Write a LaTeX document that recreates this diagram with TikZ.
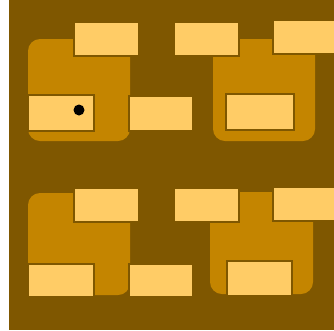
\documentclass[tikz,border=0pt]{standalone}
\usepackage{xcolor}
\usepackage{tikz}
\usetikzlibrary{positioning}
\definecolor{bgbrown}{HTML}{7F5700}
\definecolor{tileorange}{HTML}{C48500}
\definecolor{slotyellow}{HTML}{FFCC66}
\begin{document}
\begin{tikzpicture}[x=1pt, y=-1pt,
  tile/.style={rectangle, fill=tileorange, rounded corners=12pt, anchor=north west,
    inner sep=0pt, outer sep=0pt, minimum width=102pt, minimum height=102pt},
  slot/.style={rectangle, fill=slotyellow, draw=bgbrown, line width=2pt, anchor=north west,
    inner sep=0pt, outer sep=0pt},
  pin/.style={circle, fill=black, inner sep=0pt, minimum size=11pt}]
\useasboundingbox (0,0) rectangle (334,330);
\fill[bgbrown] (9,0) rectangle (334,330);
% group 1
\node[tile] (t1) at (28,39) {};
\node[slot, minimum width=65pt, minimum height=34pt] (a1) at (74,22) {};
\node[slot, minimum width=66pt, minimum height=36pt] (b1) at (28,95) {};
\node[slot, minimum width=64pt, minimum height=35pt] (c1) at (129,96) {};
\node[pin] (p1) at (79,110) {};
% group 2
\node[tile] (t2) at (213,39) {};
\node[slot, minimum width=65pt, minimum height=34pt] (a2) at (174,22) {};
\node[slot, minimum width=62pt, minimum height=34pt] (b2) at (273,20) {};
\node[slot, minimum width=68pt, minimum height=36pt] (c2) at (226,94) {};
% group 3
\node[tile] (t3) at (28,193) {};
\node[slot, minimum width=65pt, minimum height=34pt] (a3) at (74,188) {};
\node[slot, minimum width=66pt, minimum height=33pt] (b3) at (28,264) {};
\node[slot, minimum width=64pt, minimum height=33pt] (c3) at (129,264) {};
% group 4
\node[tile, minimum width=103pt] (t4) at (210,192) {};
\node[slot, minimum width=65pt, minimum height=34pt] (a4) at (174,188) {};
\node[slot, minimum width=62pt, minimum height=34pt] (b4) at (273,187) {};
\node[slot, minimum width=65pt, minimum height=35pt] (c4) at (227,261) {};
\end{tikzpicture}
\end{document}
